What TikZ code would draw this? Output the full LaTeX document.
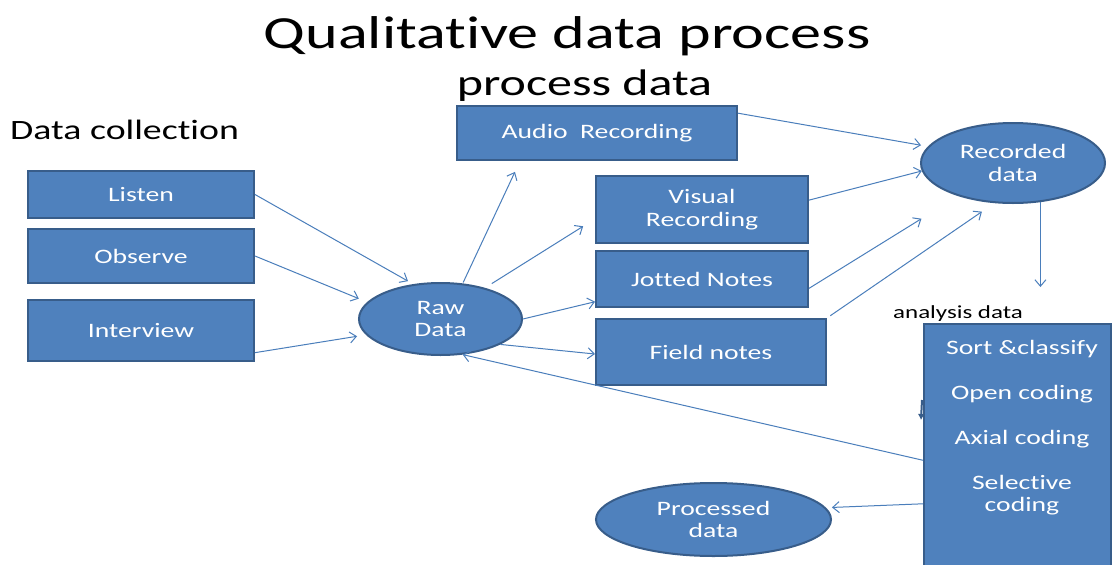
\documentclass[tikz,border=0pt]{standalone}
\usepackage{fontspec}
\setmainfont{Carlito}[FakeStretch=1.35, Ligatures=NoCommon]
\usetikzlibrary{shapes.geometric,arrows.meta,calc}
\definecolor{boxfill}{HTML}{4F81BD}
\definecolor{boxline}{HTML}{385D8A}
\definecolor{arrowline}{HTML}{4A7EBB}
\newcommand\titlefont{\fontsize{46}{50}\selectfont}
\newcommand\subheadfont{\fontsize{37}{40}\selectfont}
\newcommand\sidefont{\fontsize{28}{30}\selectfont}
\newcommand\boxfont{\fontsize{20.5}{22.5}\selectfont}
\newcommand\notefont{\fontsize{18.5}{20}\selectfont}
\begin{document}
\begin{tikzpicture}[x=1pt,y=-1pt,
  box/.style={draw=boxline, line width=2pt, fill=boxfill, text=white,
    inner sep=0pt, font=\boxfont, align=center},
  oval/.style={box, ellipse},
  boxtext/.style={text=white, font=\boxfont, inner sep=0pt, anchor=base},
  conn/.style={draw=arrowline, line width=1pt,
    -{Straight Barb[length=6.5pt,width=11pt]}},
  stubmark/.style={draw=boxline, line width=2pt,
    -{Latex[length=6pt,width=7pt]}}]
\useasboundingbox[fill=white] (0,0) rectangle (1112,565);

% headings
\node[anchor=base, font=\titlefont, inner sep=0pt] (title) at (567,48) {Qualitative data process};
\node[anchor=base, font=\subheadfont, inner sep=0pt] (prochead) at (584.5,95) {process data};
\node[anchor=base west, font=\sidefont, inner sep=0pt] (collecthead) at (10,139) {Data collection};
\node[anchor=base west, font=\notefont, inner sep=0pt] (analysishead) at (893,318) {analysis data};

% data collection
\node[box, minimum width=226pt, minimum height=47pt] (listen) at (141,194.5) {Listen};
\node[box, minimum width=226pt, minimum height=54pt] (observe) at (141,256) {Observe};
\node[box, minimum width=226pt, minimum height=61pt] (interview) at (141,330.5) {Interview};

% raw data
\node[oval, minimum width=163pt, minimum height=72pt] (raw) at (440.5,319) {Raw\\Data};

% processing
\node[box, minimum width=280pt, minimum height=54pt] (audio) at (597,133) {Audio\ \ Recording};
\node[box, minimum width=212pt, minimum height=67pt] (visual) at (702,209.5) {Visual\\Recording};
\node[box, minimum width=212pt, minimum height=56pt] (jotted) at (702,279) {Jotted Notes};
\node[box, minimum width=230pt, minimum height=66pt] (field) at (711,352) {Field notes};

% recorded data
\node[oval, minimum width=184pt, minimum height=80pt] (recorded) at (1013,163) {Recorded\\data};

% analysis
\node[box, minimum width=187pt, minimum height=246pt] (analysis) at (1017.5,447) {};
\node[boxtext] (sortcl) at (1022,354) {Sort \&classify};
\node[boxtext] (opencd) at (1022,399) {Open coding};
\node[boxtext] (axialcd) at (1022,444) {Axial coding};
\node[boxtext] (selcd) at (1022,489) {Selective};
\node[boxtext] (selcd2) at (1022,511) {coding};

% processed data
\node[oval, minimum width=235pt, minimum height=73pt] (processed) at (713.5,519.5) {Processed\\data};

% connectors
\draw[conn, shorten >=6pt] (listen.east) -- (raw.128);
\draw[conn, shorten >=9pt] (observe.east) -- (raw.167);
\draw[conn, shorten >=9pt] (interview.-11) -- (raw.192);
\draw[conn, shorten <=1pt, shorten >=12pt] (raw.58) -- (audio.-160);
\draw[conn, shorten <=8pt, shorten >=14pt] (raw.35) -- (visual.185);
\draw[conn] (raw.east) -- (jotted.192);
\draw[conn] (raw.-23) -- (field.181);
\draw[conn] (analysis.188) -- (raw.-58);
\draw[conn, shorten >=7pt] (audio.8.5) -- (recorded.169);
\draw[conn] (visual.5) -- (recorded.185);
\draw[conn, shorten >=43pt] (jotted.-5) -- (recorded.211.5);
\draw[conn, shorten <=4pt, shorten >=15pt] (field.north east) -- (recorded.245.5);
\draw[conn, shorten >=36pt] (recorded.-55) -- (recorded.-55 |- analysis.north);
\draw[conn, shorten >=6pt] (analysis.211) -- (processed.6);

% small mark on the left edge of the analysis box
\draw[stubmark] ([xshift=-1pt,yshift=47pt]analysis.west) -- ([xshift=-2pt,yshift=27pt]analysis.west);
\end{tikzpicture}
\end{document}
